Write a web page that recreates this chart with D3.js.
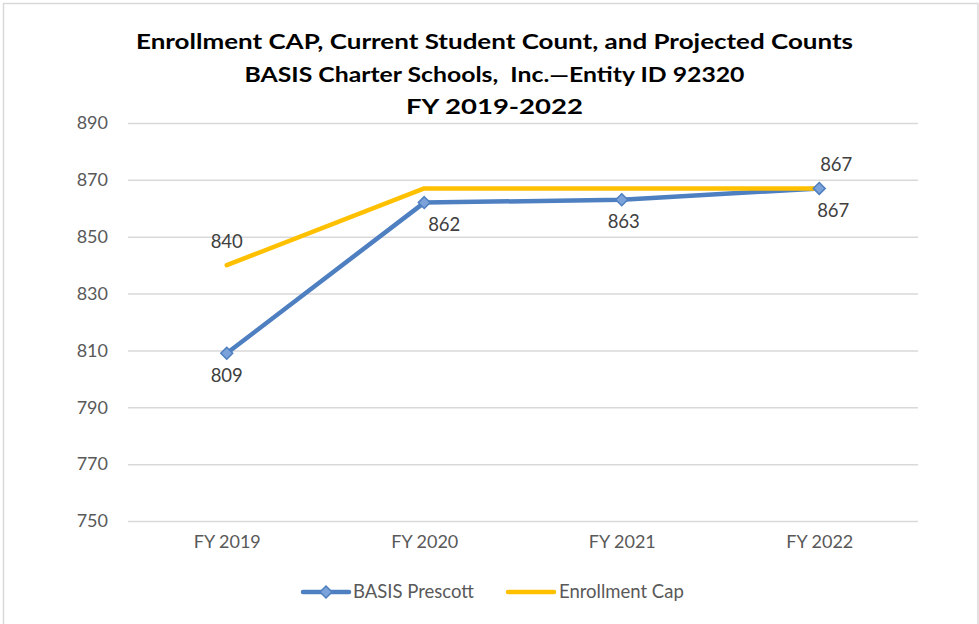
<!DOCTYPE html>
<html><head><meta charset="utf-8">
<script src="https://cdn.jsdelivr.net/npm/d3@7"></script>
<style>html,body{margin:0;padding:0;background:#fff;}svg{display:block;}text{white-space:pre;}</style>
</head><body>
<script>
const categories = ["FY 2019", "FY 2020", "FY 2021", "FY 2022"];
const prescott = [809, 862, 863, 867];
const enrollmentCap = [840, 867, 867, 867];
const yTicks = [750, 770, 790, 810, 830, 850, 870, 890];
const titleLines = ["Enrollment CAP, Current Student Count, and Projected Counts",
  "BASIS Charter Schools,  Inc.\u2014Entity ID 92320", "FY 2019-2022"];
const seriesNames = ["BASIS Prescott", "Enrollment Cap"];
const capLabelShown = [true, false, false, true];

const W = 979, H = 624;
const FONT = "Lato, 'Open Sans', 'Liberation Sans', sans-serif";
const BLUE = "#4e7fc0", YELLOW = "#ffc000";
const svg = d3.select("body").append("svg").attr("width", W).attr("height", H);
svg.append("rect").attr("width", W).attr("height", H).attr("fill", "#fff");
svg.append("rect").attr("x", 3.5).attr("y", 3.5).attr("width", 974.5).attr("height", 640)
  .attr("fill", "none").attr("stroke", "#d9d9d9").attr("stroke-width", 1.5);

const x = d3.scalePoint().domain(categories).range([128, 918]).padding(0.5);
const y = d3.scaleLinear().domain([750, 890]).range([521, 123]);

// title
const titleY = [42, 75, 107];
const titleW = [717, 500, 177];
titleLines.forEach((t, i) => {
  svg.append("text").attr("x", 494.5).attr("y", titleY[i]).attr("dy", "0.35em")
    .attr("text-anchor", "middle").attr("font-family", FONT).attr("font-weight", "bold")
    .attr("font-size", 21).attr("fill", "#000")
    .attr("textLength", titleW[i]).attr("lengthAdjust", "spacingAndGlyphs").text(t);
});

// grid + y axis
const yAxis = d3.axisLeft(y).tickValues(yTicks).tickSize(-(918 - 128)).tickPadding(20).tickFormat(d3.format("d"));
const gy = svg.append("g").attr("transform", "translate(128,0)").call(yAxis);
gy.select(".domain").remove();
gy.selectAll(".tick line").attr("stroke", "#d9d9d9").attr("stroke-width", 1.5);
gy.selectAll(".tick text").attr("font-family", FONT).attr("font-size", 18).attr("fill", "#595959");

// x axis
const xAxis = d3.axisBottom(x).tickSize(0).tickPadding(0);
const gx = svg.append("g").attr("transform", "translate(0,539)").call(xAxis);
gx.select(".domain").remove();
gx.selectAll(".tick text").attr("font-family", FONT).attr("font-size", 18).attr("fill", "#595959").attr("dy", "0.5em");

const line = d3.line().x((d, i) => x(categories[i])).y(d => y(d));
svg.append("path").datum(prescott).attr("d", line).attr("fill", "none")
  .attr("stroke", BLUE).attr("stroke-width", 4.5).attr("stroke-linecap", "round").attr("stroke-linejoin", "round");
svg.append("path").datum(enrollmentCap).attr("d", line).attr("fill", "none")
  .attr("stroke", YELLOW).attr("stroke-width", 4.5).attr("stroke-linecap", "round").attr("stroke-linejoin", "round");

const diamond = d3.symbol().type(d3.symbolDiamond2).size(90);
svg.selectAll(".mk").data(prescott).enter().append("path")
  .attr("transform", (d, i) => `translate(${x(categories[i])},${y(d)})`)
  .attr("d", diamond).attr("fill", "#7ba3da").attr("stroke", BLUE).attr("stroke-width", 1.5);

// data labels
const belowDx = [0, 20, 2, 14];
svg.selectAll(".lb").data(prescott).enter().append("text")
  .attr("x", (d, i) => x(categories[i]) + belowDx[i]).attr("y", d => y(d) + 22).attr("dy", "0.35em")
  .attr("text-anchor", "middle").attr("font-family", FONT).attr("font-size", 18.5).attr("fill", "#404040")
  .text(d => d);
const aboveDx = [0, 0, 0, 17];
svg.selectAll(".la").data(enrollmentCap.map((v, i) => ({v, i})).filter(d => capLabelShown[d.i])).enter().append("text")
  .attr("x", d => x(categories[d.i]) + aboveDx[d.i]).attr("y", d => y(d.v) - 24).attr("dy", "0.35em")
  .attr("text-anchor", "middle").attr("font-family", FONT).attr("font-size", 18.5).attr("fill", "#404040")
  .text(d => d.v);

// legend
const lg = svg.append("g");
lg.append("line").attr("x1", 303).attr("x2", 349).attr("y1", 592).attr("y2", 592)
  .attr("stroke", BLUE).attr("stroke-width", 4.5).attr("stroke-linecap", "round");
lg.append("path").attr("transform", "translate(326,592)").attr("d", diamond)
  .attr("fill", "#7ba3da").attr("stroke", BLUE).attr("stroke-width", 1.5);
lg.append("text").attr("x", 353).attr("y", 592).attr("dy", "0.35em").attr("font-family", FONT)
  .attr("font-size", 18.5).attr("fill", "#595959").text(seriesNames[0]);
lg.append("line").attr("x1", 508).attr("x2", 554).attr("y1", 592).attr("y2", 592)
  .attr("stroke", YELLOW).attr("stroke-width", 4.5).attr("stroke-linecap", "round");
lg.append("text").attr("x", 559).attr("y", 592).attr("dy", "0.35em").attr("font-family", FONT)
  .attr("font-size", 18.5).attr("fill", "#595959").text(seriesNames[1]);
</script>
</body></html>
